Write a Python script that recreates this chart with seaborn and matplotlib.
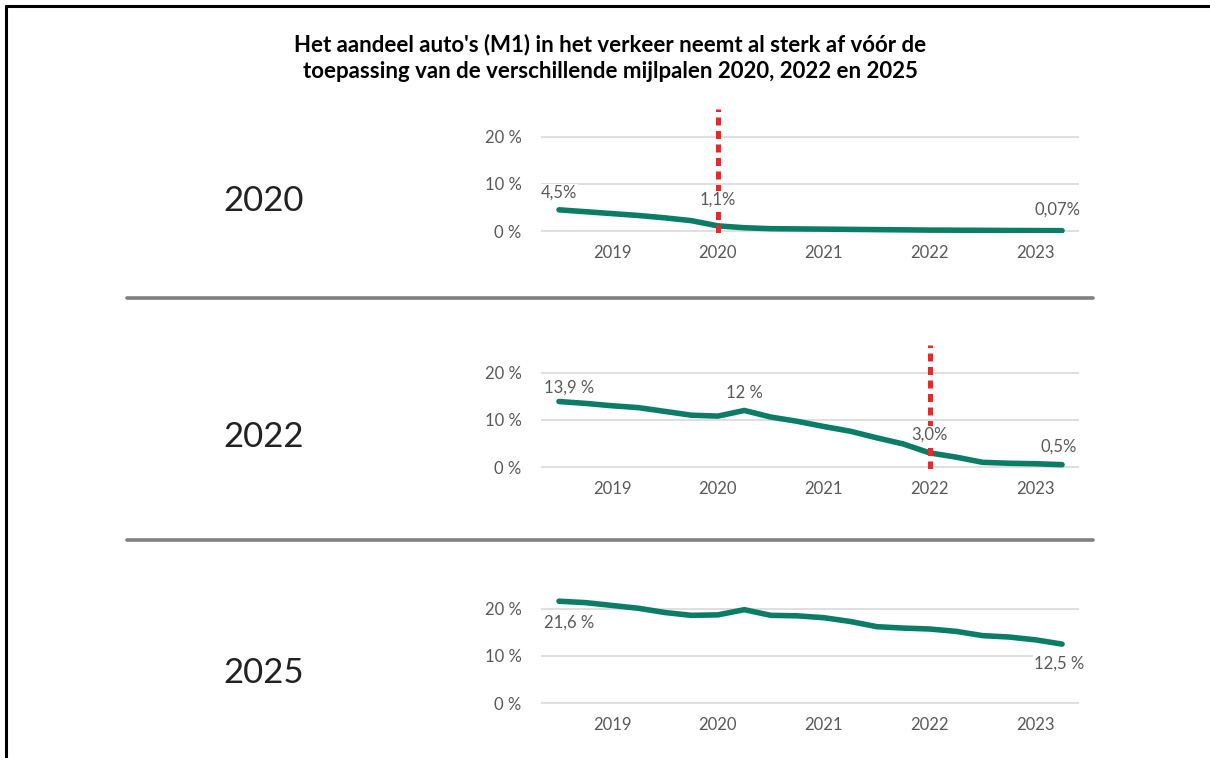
import numpy as np
import pandas as pd
import matplotlib
matplotlib.use("Agg")
import matplotlib.pyplot as plt
import seaborn as sns
from matplotlib.lines import Line2D

# Quarterly share of M1 cars, 2019 Q1 .. 2023 Q4 (x = year + quarter offset)
quarters = [2019.0, 2019.25, 2019.5, 2019.75,
            2020.0, 2020.25, 2020.5, 2020.75,
            2021.0, 2021.25, 2021.5, 2021.75,
            2022.0, 2022.25, 2022.5, 2022.75,
            2023.0, 2023.25, 2023.5, 2023.75]

share_2020 = [4.5, 4.1, 3.7, 3.3, 2.8, 2.2, 1.1, 0.7, 0.5, 0.45,
              0.4, 0.35, 0.3, 0.25, 0.2, 0.18, 0.15, 0.12, 0.1, 0.07]
share_2022 = [13.9, 13.5, 13.0, 12.6, 11.8, 11.0, 10.8, 12.0, 10.6, 9.7,
              8.6, 7.6, 6.2, 4.9, 3.0, 2.1, 1.0, 0.8, 0.7, 0.5]
share_2025 = [21.6, 21.3, 20.7, 20.1, 19.2, 18.6, 18.7, 19.8, 18.6, 18.5,
              18.1, 17.3, 16.2, 15.9, 15.7, 15.2, 14.3, 14.0, 13.4, 12.5]

milestones = ["2020", "2022", "2025"]
milestone_x = [2020.5, 2022.5, None]
year_labels = ["2019", "2020", "2021", "2022", "2023"]
year_pos = [2019.5, 2020.5, 2021.5, 2022.5, 2023.5]
y_ticks = [0, 10, 20]
y_tick_labels = ["0 %", "10 %", "20 %"]

# value labels: (point index, text)
labels_2020 = [(0, "4,5%"), (6, "1,1%"), (19, "0,07%")]
labels_2022 = [(0, "13,9 %"), (7, "12 %"), (14, "3,0%"), (19, "0,5%")]
labels_2025 = [(0, "21,6 %"), (19, "12,5 %")]

series = [share_2020, share_2022, share_2025]
value_labels = [labels_2020, labels_2022, labels_2025]
# label offsets in pixels (dx, dy)
label_offsets = [
    [(0, 17), (0, 26), (-5, 21)],
    [(10, 14), (0, 17), (0, 18), (-3, 18)],
    [(10, -21), (-3, -20)],
]

GREEN = "#0b7d67"
RED = "#e32b2b"
TEXT = "#595959"

sns.set_theme(style="white")
plt.rcParams["font.family"] = ["Lato", "DejaVu Sans"]

W, H = 1210, 758
fig = plt.figure(figsize=(W / 100, H / 100), dpi=100)


def fx(px):
    return px / W


def fy(py):
    return 1 - py / H


ax_left, ax_right = 541, 1079
ax_bottoms = [233.4, 469.4, 705.4]
ax_height = 124
ymin, ymax = -0.5, 25.8

for i, name in enumerate(milestones):
    bottom = ax_bottoms[i]
    ax = fig.add_axes([fx(ax_left), fy(bottom), fx(ax_right - ax_left), ax_height / H])
    df = pd.DataFrame({"kwartaal": quarters, "aandeel": series[i]})

    for t in y_ticks:
        ax.axhline(t, color="#d9d9d9", lw=1.2, zorder=0)

    if milestone_x[i] is not None:
        ax.axvline(milestone_x[i], color=RED, lw=3.6, dashes=(1.6, 1.1), zorder=3)

    sns.lineplot(data=df, x="kwartaal", y="aandeel", ax=ax, color=GREEN,
                 lw=4, zorder=2, legend=False)

    for (idx, txt), (dx, dy) in zip(value_labels[i], label_offsets[i]):
        ax.annotate(txt, (quarters[idx], series[i][idx]), xytext=(dx, dy),
                    textcoords="offset pixels", ha="center", va="center",
                    fontsize=12, color=TEXT, zorder=5,
                    bbox=dict(boxstyle="square,pad=0.05", fc="white", ec="none"))

    ax.set_xlim(2018.83, 2023.91)
    ax.set_ylim(ymin, ymax)
    ax.set_xticks(year_pos)
    ax.set_xticklabels(year_labels, fontsize=12, color=TEXT)
    ax.set_yticks(y_ticks)
    ax.set_yticklabels(y_tick_labels, fontsize=12, color=TEXT)
    ax.tick_params(axis="x", length=0, pad=8)
    ax.tick_params(axis="y", length=0, pad=14)
    ax.set_xlabel("")
    ax.set_ylabel("")
    for s in ax.spines.values():
        s.set_visible(False)
    ax.patch.set_alpha(0)

    # big milestone label on the left
    fig.text(fx(264), fy(bottom - 32), name, fontsize=25, color="#222222",
             ha="center", va="center")

# separators between the panels
for sep_y in [298, 540]:
    fig.add_artist(Line2D([fx(127), fx(1093)], [fy(sep_y), fy(sep_y)],
                          color="#808080", lw=2.6))

# frame (top and left edges visible)
fig.add_artist(Line2D([fx(6), fx(6)], [fy(6), 0], color="black", lw=2.2))
fig.add_artist(Line2D([fx(6), 1], [fy(6), fy(6)], color="black", lw=2.2))

fig.text(fx(610), fy(45), "Het aandeel auto's (M1) in het verkeer neemt al sterk af vóór de",
         fontsize=16, fontweight="bold", color="black", ha="center", va="center")
fig.text(fx(610), fy(72), "toepassing van de verschillende mijlpalen 2020, 2022 en 2025",
         fontsize=16, fontweight="bold", color="black", ha="center", va="center")

fig.savefig("out.png", dpi=100)
